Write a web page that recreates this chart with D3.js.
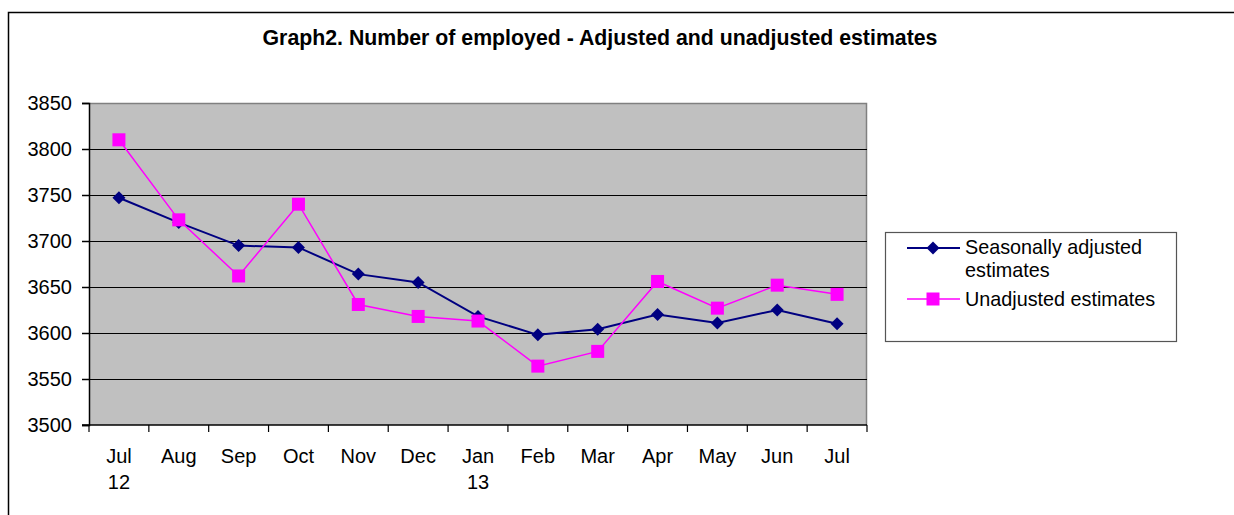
<!DOCTYPE html>
<html>
<head>
<meta charset="utf-8">
<script src="https://cdn.jsdelivr.net/npm/d3@7"></script>
<style>
  body { margin: 0; background: #fff; }
  svg { display: block; font-family: "Liberation Sans", Arial, sans-serif; }
</style>
</head>
<body>
<div id="chart"></div>
<script>
// Chart data
const months = ['Jul', 'Aug', 'Sep', 'Oct', 'Nov', 'Dec', 'Jan', 'Feb', 'Mar', 'Apr', 'May', 'Jun', 'Jul '];
const monthLabels = [['Jul', '12'], ['Aug'], ['Sep'], ['Oct'], ['Nov'], ['Dec'], ['Jan', '13'], ['Feb'], ['Mar'], ['Apr'], ['May'], ['Jun'], ['Jul']];
const adjusted = [3747, 3720, 3695, 3693, 3664, 3655, 3618, 3598, 3604, 3620, 3611, 3625, 3610];
const unadjusted = [3810, 3723, 3662, 3740, 3631, 3618, 3613, 3564, 3580, 3656, 3627, 3652, 3642];
const yTicks = [3500, 3550, 3600, 3650, 3700, 3750, 3800, 3850];

const width = 1234;
const height = 515;
const plot = { left: 89, right: 867, top: 103, bottom: 425 };

const svg = d3.select('#chart')
  .append('svg')
  .attr('width', width)
  .attr('height', height);

// Outer frame (runs off the right and bottom edge)
svg.append('path')
  .attr('d', `M8.5,${height + 2} V12.5 H${width + 2}`)
  .attr('fill', 'none')
  .attr('stroke', '#000')
  .attr('stroke-width', 1.5);

// Title
svg.append('text')
  .attr('x', 600)
  .attr('y', 45)
  .attr('text-anchor', 'middle')
  .attr('font-size', '21.3px')
  .attr('font-weight', 'bold')
  .text('Graph2. Number of employed - Adjusted and unadjusted estimates');

const x = d3.scaleBand()
  .domain(months)
  .range([plot.left, plot.right])
  .padding(0);

const y = d3.scaleLinear()
  .domain([3500, 3850])
  .range([plot.bottom, plot.top]);

// Plot background
svg.append('rect')
  .attr('x', plot.left)
  .attr('y', plot.top)
  .attr('width', plot.right - plot.left)
  .attr('height', plot.bottom - plot.top)
  .attr('fill', '#c0c0c0');

// Plot border top/right (grey)
svg.append('path')
  .attr('d', `M${plot.left},${plot.top + 0.5} H${plot.right - 0.5} V${plot.bottom}`)
  .attr('fill', 'none')
  .attr('stroke', '#808080')
  .attr('stroke-width', 1.5);

// Gridlines
svg.append('g')
  .selectAll('line')
  .data(yTicks.slice(1, -1))
  .enter()
  .append('line')
  .attr('x1', plot.left)
  .attr('x2', plot.right)
  .attr('y1', (d) => Math.round(y(d)) + 0.5)
  .attr('y2', (d) => Math.round(y(d)) + 0.5)
  .attr('stroke', '#000')
  .attr('stroke-width', 1.2);

// Y axis
const yAxis = d3.axisLeft(y)
  .tickValues(yTicks)
  .tickFormat(d3.format('d'))
  .tickSize(7)
  .tickPadding(10);

const yg = svg.append('g')
  .attr('transform', `translate(${plot.left},0)`)
  .call(yAxis);
yg.select('.domain').attr('stroke', '#000').attr('stroke-width', 1.5);
yg.selectAll('.tick line').attr('stroke', '#000').attr('stroke-width', 1.5);
yg.selectAll('text')
  .attr('font-size', '20px')
  .attr('font-family', '"Liberation Sans", Arial, sans-serif')
  .attr('fill', '#000');

// X axis line
svg.append('line')
  .attr('x1', plot.left - 7)
  .attr('x2', plot.right)
  .attr('y1', plot.bottom)
  .attr('y2', plot.bottom)
  .attr('stroke', '#000')
  .attr('stroke-width', 1.5);

// X ticks on band boundaries
const tickPositions = months.map((m) => x(m)).concat([x(months[months.length - 1]) + x.bandwidth()]);
svg.append('g')
  .selectAll('line')
  .data(tickPositions)
  .enter()
  .append('line')
  .attr('x1', (d) => d)
  .attr('x2', (d) => d)
  .attr('y1', plot.bottom)
  .attr('y2', plot.bottom + 7)
  .attr('stroke', '#000')
  .attr('stroke-width', 1.2);

// X labels
const xl = svg.append('g')
  .selectAll('text')
  .data(months)
  .enter()
  .append('text')
  .attr('x', (d) => x(d) + x.bandwidth() / 2)
  .attr('y', 463)
  .attr('text-anchor', 'middle')
  .attr('font-size', '20px');

xl.each(function (d, i) {
  const t = d3.select(this);
  monthLabels[i].forEach((line, j) => {
    t.append('tspan')
      .attr('x', x(d) + x.bandwidth() / 2)
      .attr('dy', j === 0 ? 0 : 26)
      .text(line);
  });
});

const cx = (i) => x(months[i]) + x.bandwidth() / 2;

const line = d3.line()
  .x((d, i) => cx(i))
  .y((d) => y(d));

// Seasonally adjusted series
svg.append('path')
  .datum(adjusted)
  .attr('d', line)
  .attr('fill', 'none')
  .attr('stroke', '#000080')
  .attr('stroke-width', 2);

// Unadjusted series
svg.append('path')
  .datum(unadjusted)
  .attr('d', line)
  .attr('fill', 'none')
  .attr('stroke', '#ff00ff')
  .attr('stroke-width', 1.5);

const diamond = (px, py, r) => `M${px},${py - r} L${px + r},${py} L${px},${py + r} L${px - r},${py} Z`;

svg.append('g')
  .selectAll('path')
  .data(adjusted)
  .enter()
  .append('path')
  .attr('d', (d, i) => diamond(cx(i), y(d), 6.5))
  .attr('fill', '#000080');

const sq = 13;
svg.append('g')
  .selectAll('rect')
  .data(unadjusted)
  .enter()
  .append('rect')
  .attr('x', (d, i) => cx(i) - sq / 2)
  .attr('y', (d) => y(d) - sq / 2)
  .attr('width', sq)
  .attr('height', sq)
  .attr('fill', '#ff00ff');

// Legend
const legend = svg.append('g');
legend.append('rect')
  .attr('x', 885.5)
  .attr('y', 232.5)
  .attr('width', 291)
  .attr('height', 109)
  .attr('fill', '#fff')
  .attr('stroke', '#555')
  .attr('stroke-width', 1.2);

legend.append('line')
  .attr('x1', 907).attr('x2', 960)
  .attr('y1', 248).attr('y2', 248)
  .attr('stroke', '#000080').attr('stroke-width', 2);
legend.append('path')
  .attr('d', diamond(933, 248, 6.5))
  .attr('fill', '#000080');

legend.append('line')
  .attr('x1', 907).attr('x2', 960)
  .attr('y1', 299).attr('y2', 299)
  .attr('stroke', '#ff00ff').attr('stroke-width', 1.5);
legend.append('rect')
  .attr('x', 933 - sq / 2)
  .attr('y', 299 - sq / 2)
  .attr('width', sq)
  .attr('height', sq)
  .attr('fill', '#ff00ff');

const legendText = legend.append('text')
  .attr('font-size', '19.8px');
legendText.append('tspan').attr('x', 965).attr('y', 254).text('Seasonally adjusted');
legendText.append('tspan').attr('x', 965).attr('y', 277).text('estimates');
legend.append('text')
  .attr('x', 965)
  .attr('y', 306)
  .attr('font-size', '19.8px')
  .text('Unadjusted estimates');
</script>
</body>
</html>
